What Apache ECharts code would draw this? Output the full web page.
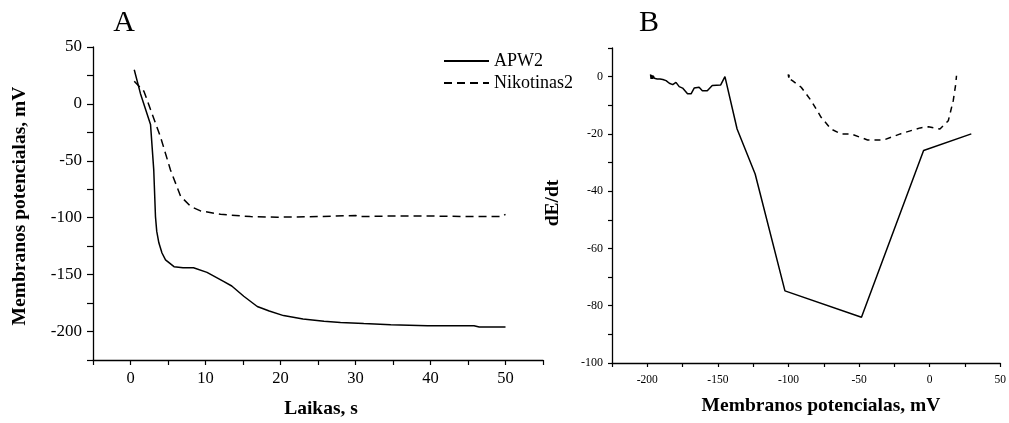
<!DOCTYPE html>
<html>
<head>
<meta charset="utf-8">
<script src="https://cdn.jsdelivr.net/npm/echarts@6/dist/echarts.min.js"></script>
<style>html,body{margin:0;padding:0;background:#fff;}#c{width:1009px;height:423px;}</style>
</head>
<body>
<div id="c"></div>
<script>
// Panel A: time (s) vs membrane potential (mV)
const apwX = [0.5, 1.33, 2.67, 3.1, 3.33, 3.5, 3.78, 4.2, 4.67, 5.8, 7, 8.4, 10.2, 12.4, 13.5, 15.1, 16.9, 18.5, 20.4, 23, 25.8, 28, 31.1, 34.7, 39.6, 45.8, 46.5, 50];
const apwY = [30, 9, -18, -58, -99, -112, -122, -131, -137, -143, -144, -144, -148, -156, -160, -169, -178, -182, -186, -189, -191, -192, -193, -194, -195, -195, -196, -196];
const nikX = [0.5, 1.8, 2.67, 4, 5.33, 6.67, 8, 9.33, 12, 16, 19.6, 25, 30, 30.5, 35, 40, 45, 49.5, 50];
const nikY = [20, 11, -5, -29, -58, -81, -90, -94, -97, -99, -99.5, -99, -98, -99, -98.5, -98.5, -99, -99, -97];
// Panel B: membrane potential (mV) vs dE/dt
const bApwX = [-197.7, -197.3, -196.8, -196.3, -195.8, -195, -194, -193, -192, -191, -189, -186.7, -184.4, -182, -179.7, -177.4, -175, -171.5, -169, -166.8, -163.3, -161, -157.5, -154, -148, -145, -136.4, -123.6, -102.5, -48.3, -4.3, 29.5];
const bApwY = [0.8, -0.8, 0.5, -0.8, 0.3, -0.6, -0.2, -0.8, -0.4, -0.8, -1, -1.4, -2.3, -2.8, -2, -3.5, -4, -6, -6, -4, -3.7, -4.9, -4.9, -3.1, -2.9, 0, -18.3, -34, -74.8, -84, -25.8, -20];
const bNikX = [-100.2, -99.8, -99.4, -99, -97, -91, -83.9, -76.9, -69.8, -62.8, -55.8, -44, -32.4, -20.8, -6.7, -0.8, 7.3, 13.2, 16.7, 18.5, 19];
const bNikY = [0.8, -0.3, 0.6, -0.8, -1.5, -3.7, -8.4, -14.2, -18.3, -20, -20, -22.1, -22.1, -20, -17.9, -17.5, -18.3, -15.4, -8.4, -2.5, 0.3];
const seriesNames = ['APW2', 'Nikotinas2'];

const zip = (xs, ys) => xs.map((x, i) => [x, ys[i]]);
const FONT = 'Liberation Serif';
const axisLine = {show: true, onZero: false, lineStyle: {color: '#000', width: 1.3}};
const tick = (len) => ({show: true, length: len, lineStyle: {color: '#000', width: 1.2}});

const chart = echarts.init(document.getElementById('c'), null, {renderer: 'canvas'});
chart.setOption({
  animation: false,
  backgroundColor: '#fff',
  grid: [
    {left: 93, top: 47, width: 450, height: 313},
    {left: 612, top: 48, width: 392, height: 315}
  ],
  legend: {
    data: seriesNames,
    orient: 'vertical',
    left: 443, top: 52, padding: 0,
    itemWidth: 45, itemHeight: 14, itemGap: 4,
    itemStyle: {opacity: 0},
    textStyle: {fontFamily: FONT, fontSize: 18, color: '#000'}
  },
  xAxis: [
    {gridIndex: 0, type: 'value', min: -5, max: 55, interval: 5,
     axisLine, axisTick: tick(5), splitLine: {show: false},
     axisLabel: {margin: 10, fontFamily: FONT, fontSize: 16.5, color: '#000',
       formatter: v => (v % 10 === 0 && v >= 0 && v <= 50) ? String(v) : ''}},
    {gridIndex: 1, type: 'value', min: -225, max: 50, interval: 25,
     axisLine, axisTick: tick(4), splitLine: {show: false},
     axisLabel: {margin: 11, fontFamily: FONT, fontSize: 11.5, color: '#000', showMaxLabel: true,
       formatter: v => (v % 50 === 0) ? String(v) : ''}}
  ],
  yAxis: [
    {gridIndex: 0, type: 'value', min: -225, max: 50, interval: 25,
     axisLine, axisTick: tick(6), splitLine: {show: false},
     axisLabel: {margin: 11, fontFamily: FONT, fontSize: 17, color: '#000',
       formatter: v => (v % 50 === 0 && v >= -200) ? String(v) : ''}},
    {gridIndex: 1, type: 'value', min: -100, max: 10, interval: 10,
     axisLine, axisTick: tick(4), splitLine: {show: false},
     axisLabel: {margin: 9, fontFamily: FONT, fontSize: 12, color: '#000',
       formatter: v => (v % 20 === 0) ? String(v) : ''}}
  ],
  series: [
    {name: seriesNames[0], type: 'line', xAxisIndex: 0, yAxisIndex: 0, data: zip(apwX, apwY),
     symbol: 'none', lineStyle: {color: '#000', width: 1.5}, itemStyle: {color: '#000'}},
    {name: seriesNames[1], type: 'line', xAxisIndex: 0, yAxisIndex: 0, data: zip(nikX, nikY),
     symbol: 'none', lineStyle: {color: '#000', width: 1.5, type: [8, 5]}, itemStyle: {color: '#000'}},
    {name: 'B-' + seriesNames[0], type: 'line', xAxisIndex: 1, yAxisIndex: 1, data: zip(bApwX, bApwY),
     symbol: 'none', lineStyle: {color: '#000', width: 1.5}},
    {name: 'B-' + seriesNames[1], type: 'line', xAxisIndex: 1, yAxisIndex: 1, data: zip(bNikX, bNikY),
     symbol: 'none', lineStyle: {color: '#000', width: 1.5, type: [6, 5]}}
  ],
  graphic: [
    {type: 'text', x: 124, y: 23, style: {text: 'A', font: '30px "Liberation Serif"', fill: '#000', textAlign: 'center', textVerticalAlign: 'middle'}},
    {type: 'text', x: 649, y: 23, style: {text: 'B', font: '30px "Liberation Serif"', fill: '#000', textAlign: 'center', textVerticalAlign: 'middle'}},
    {type: 'text', x: 20, y: 206, rotation: Math.PI / 2, style: {text: 'Membranos potencialas, mV', font: 'bold 19.5px "Liberation Serif"', fill: '#000', textAlign: 'center', textVerticalAlign: 'middle'}},
    {type: 'text', x: 321, y: 409, style: {text: 'Laikas, s', font: 'bold 19.5px "Liberation Serif"', fill: '#000', textAlign: 'center', textVerticalAlign: 'middle'}},
    {type: 'text', x: 553, y: 203, rotation: Math.PI / 2, style: {text: 'dE/dt', font: 'bold 19.5px "Liberation Serif"', fill: '#000', textAlign: 'center', textVerticalAlign: 'middle'}},
    {type: 'text', x: 821, y: 406, style: {text: 'Membranos potencialas, mV', font: 'bold 19.5px "Liberation Serif"', fill: '#000', textAlign: 'center', textVerticalAlign: 'middle'}}
  ]
});
</script>
</body>
</html>
